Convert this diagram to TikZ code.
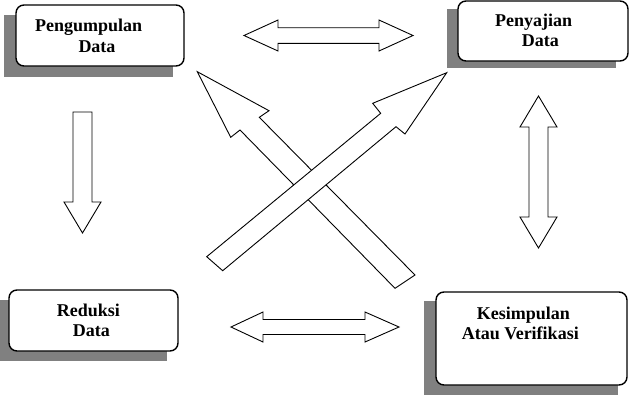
\documentclass[tikz,border=0pt]{standalone}
\usepackage{fontspec}
\setmainfont{Liberation Serif}[BoldFont={Liberation Serif Bold}]
\begin{document}
\begin{tikzpicture}[x=1pt,y=-1pt,
  shadowbox/.style={fill=black!50},
  mainbox/.style={draw=black,line width=1.4pt,fill=white,rounded corners=8pt,inner sep=0pt},
  lbl/.style={anchor=base west,inner sep=0pt,font=\fontsize{18}{22}\selectfont\bfseries},
  blockarrow/.style={draw=black,line width=0.9pt,fill=white,line join=miter}]
\useasboundingbox (0,0) rectangle (632,400);
% shadows
\fill[shadowbox] (4,15) rectangle (173,77);
\fill[shadowbox] (447,9) rectangle (616,68);
\fill[shadowbox] (0,300) rectangle (167,361);
\fill[shadowbox] (424,301) rectangle (618,395);
% boxes
\node[mainbox,minimum width=168pt,minimum height=61pt] (b1) at (100,35.5) {};
\node[mainbox,minimum width=170pt,minimum height=60pt] (b2) at (543,31) {};
\node[mainbox,minimum width=169pt,minimum height=61pt] (b3) at (93.5,320.5) {};
\node[mainbox,minimum width=191pt,minimum height=93pt] (b4) at (531.5,338.5) {};
% labels
\node[lbl] (t1a) at (35,31) {Pengumpulan};
\node[lbl] (t1b) at (78.3,52.7) {Data};
\node[lbl] (t2a) at (495,26) {Penyajian};
\node[lbl] (t2b) at (521.7,46.7) {Data};
\node[lbl] (t3a) at (56.7,316.7) {Reduksi};
\node[lbl] (t3b) at (72.7,336.7) {Data};
\node[lbl] (t4a) at (476.7,319.3) {Kesimpulan};
\node[lbl] (t4b) at (461.7,339.3) {Atau Verifikasi};
% top double arrow
\draw[blockarrow] (244,35.5) -- (278,20) -- (278,27.7) -- (379,27.7) -- (379,20) -- (413,35.5)
  -- (379,51) -- (379,43.3) -- (278,43.3) -- (278,51) -- cycle;
% bottom double arrow
\draw[blockarrow] (231,327) -- (263,312) -- (263,319.5) -- (365,319.5) -- (365,312) -- (399,327)
  -- (365,342) -- (365,334.5) -- (263,334.5) -- (263,342) -- cycle;
% left down arrow
\draw[blockarrow] (73,112) -- (92,112) -- (92,202) -- (101,202) -- (82.5,233) -- (64,202) -- (73,202) -- cycle;
% right vertical double arrow
\draw[blockarrow] (538.5,96) -- (557,127) -- (548,127) -- (548,217) -- (557,217) -- (538.5,248)
  -- (520,217) -- (529,217) -- (529,127) -- (520,127) -- cycle;
% diagonal arrow pointing up-left
\draw[blockarrow] (197.3,71.7) -- (269,110.7) -- (259.3,117.3) -- (415,275) -- (395,288.3)
  -- (240,130) -- (230.7,137.3) -- cycle;
% diagonal arrow pointing up-right
\draw[blockarrow] (446.7,72.7) -- (405,134) -- (396,126.7) -- (222.7,270.7) -- (206.7,256.7)
  -- (380.7,113.3) -- (372.7,103.3) -- cycle;
\end{tikzpicture}
\end{document}
